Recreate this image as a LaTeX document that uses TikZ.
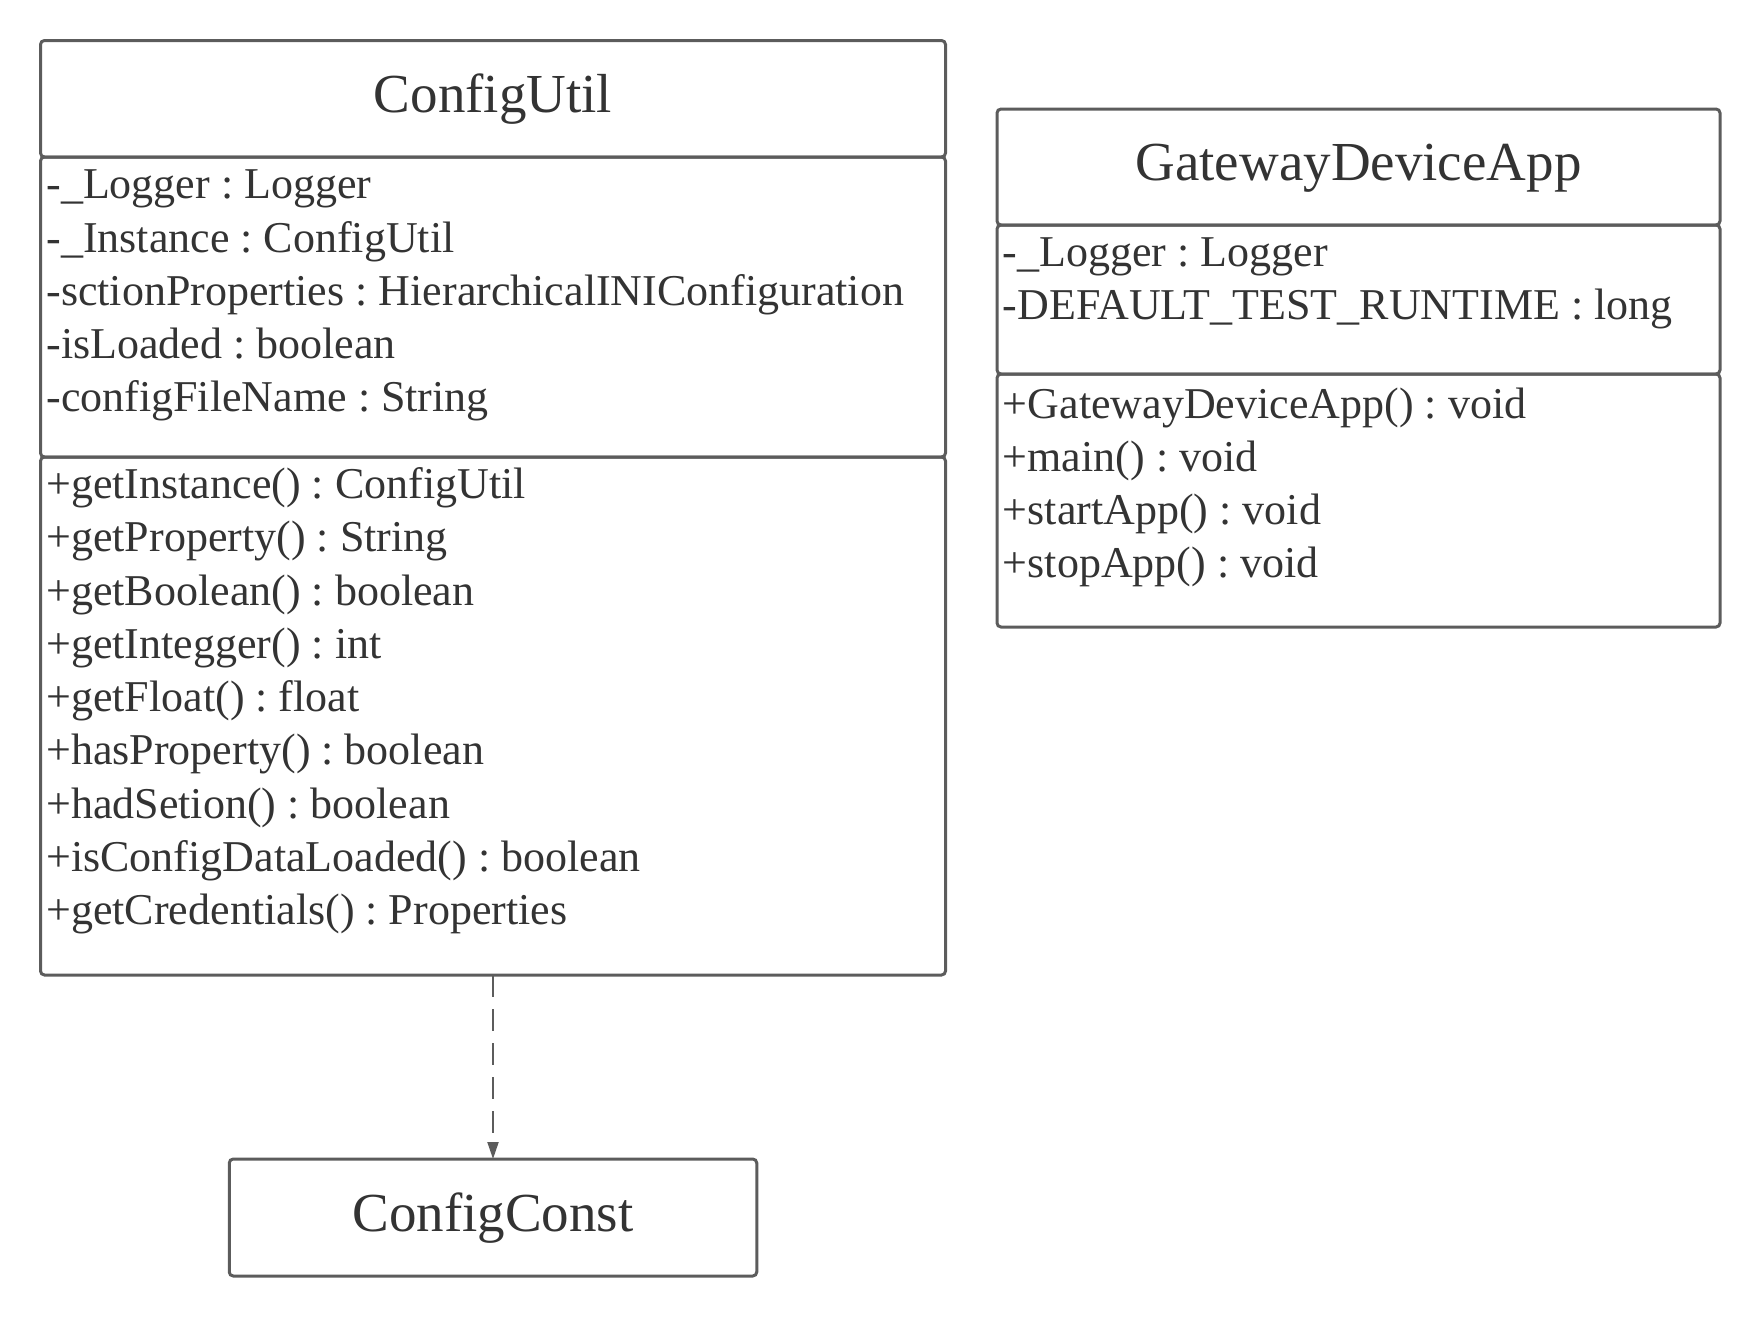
\documentclass[tikz,border=0pt]{standalone}
\usepackage{fontspec}
\setmainfont{Liberation Serif}[Ligatures=NoCommon]
\usetikzlibrary{arrows.meta,positioning}
\definecolor{umlline}{HTML}{5C5C5C}
\definecolor{umltext}{HTML}{333333}
\frenchspacing

\begin{document}
\begin{tikzpicture}[x=0.5pt,y=-0.5pt,
  compartment/.style={draw=umlline,line width=1.5pt,rounded corners=2pt,inner sep=0pt,outer sep=0pt,anchor=north west},
  classname/.style={font=\fontsize{27.5}{33}\selectfont,text=umltext,anchor=base,inner sep=0pt},
  member/.style={font=\fontsize{22}{26.6}\selectfont,text=umltext,anchor=base west,inner sep=0pt},
  depends/.style={draw=umlline,line width=1pt,dash pattern=on 11pt off 6pt,-{Triangle[length=8.5pt,width=5.5pt]}}]
  \useasboundingbox (0,0) rectangle (1760,1317);

  % ConfigUtil
  \node[compartment,minimum width=452.5pt,minimum height=58.25pt] (utilHead) at (40.5,40.5) {};
  \node[compartment,minimum width=452.5pt,minimum height=150pt] (utilAttrs) at (utilHead.south west) {};
  \node[compartment,minimum width=452.5pt,minimum height=259pt] (utilOps) at (utilAttrs.south west) {};
  \node[classname] (utilName) at ([yshift=-6.85pt]utilHead.center) {ConfigUtil};
  \foreach \m [count=\i from 0] in {-\_Logger : Logger, -\_Instance : ConfigUtil,
      -sctionProperties : HierarchicalINIConfiguration, -isLoaded : boolean,
      -configFileName : String}
    \node[member] (utilAttr\i) at ([xshift=2.75pt,yshift=-20.85pt-\i*26.65pt]utilAttrs.north west) {\m};
  \foreach \m [count=\i from 0] in {+getInstance() : ConfigUtil, +getProperty() : String,
      +getBoolean() : boolean, +getIntegger() : int, +getFloat() : float,
      +hasProperty() : boolean, +hadSetion() : boolean,
      +isConfigDataLoaded() : boolean, +getCredentials() : Properties}
    \node[member] (utilOp\i) at ([xshift=2.75pt,yshift=-20.7pt-\i*26.65pt]utilOps.north west) {\m};

  % GatewayDeviceApp
  \node[compartment,minimum width=361.5pt,minimum height=58pt] (appHead) at (997,109) {};
  \node[compartment,minimum width=361.5pt,minimum height=74.5pt] (appAttrs) at (appHead.south west) {};
  \node[compartment,minimum width=361.5pt,minimum height=126.5pt] (appOps) at (appAttrs.south west) {};
  \node[classname] (appName) at ([yshift=-6.85pt]appHead.center) {GatewayDeviceApp};
  \foreach \m [count=\i from 0] in {-\_Logger : Logger, -DEFAULT\_TEST\_RUNTIME : long}
    \node[member] (appAttr\i) at ([xshift=2.75pt,yshift=-20.5pt-\i*26.65pt]appAttrs.north west) {\m};
  \foreach \m [count=\i from 0] in {+GatewayDeviceApp() : void, +main() : void,
      +startApp() : void, +stopApp() : void}
    \node[member] (appOp\i) at ([xshift=2.75pt,yshift=-22pt-\i*26.65pt]appOps.north west) {\m};

  % ConfigConst
  \node[draw=umlline,line width=1.5pt,rounded corners=2pt,inner sep=0pt,outer sep=0pt,
    minimum width=263.75pt,minimum height=58.5pt,below=92pt of utilOps] (constHead) {};
  \node[classname] (constName) at ([yshift=-6.85pt]constHead.center) {ConfigConst};

  \draw[depends] (utilOps.south) -- (constHead.north);
\end{tikzpicture}
\end{document}
